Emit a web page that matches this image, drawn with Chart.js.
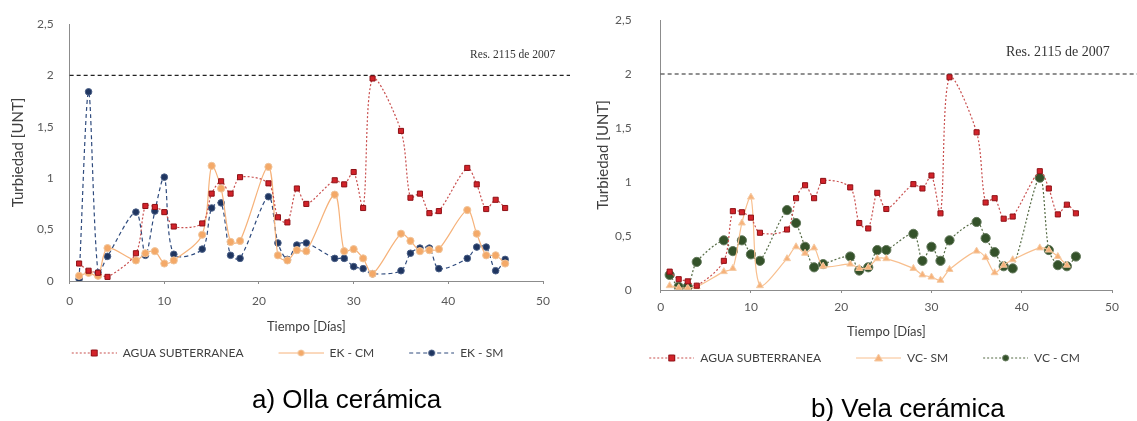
<!DOCTYPE html>
<html>
<head>
<meta charset="utf-8">
<script src="https://cdn.jsdelivr.net/npm/chart.js@4.4.1/dist/chart.umd.min.js"></script>
<style>
  html, body { margin: 0; padding: 0; background: #fff; }
  #wrap { position: relative; width: 1137px; height: 421px; overflow: hidden; }
  #chartA { position: absolute; left: 0; top: 0; }
  #chartB { position: absolute; left: 570px; top: 0; }
  .sub { position: absolute; font: 26px "Liberation Sans", Arial, sans-serif; line-height: 31px; color: #000; white-space: nowrap; }
  #subA { left: 252px; top: 384px; }
  #subB { left: 811px; top: 393px; }
</style>
</head>
<body>
<div id="wrap">
  <canvas id="chartA" width="570" height="421"></canvas>
  <canvas id="chartB" width="567" height="421"></canvas>
  <div class="sub" id="subA">a) Olla cerámica</div>
  <div class="sub" id="subB">b) Vela cerámica</div>
</div>
<script>
// dias de muestreo (lunes a viernes)
const days = [1, 2, 3, 4, 7, 8, 9, 10, 11, 14, 15, 16, 17, 18, 21, 22, 23, 24, 25, 28, 29, 30, 31, 32, 35, 36, 37, 38, 39, 42, 43, 44, 45, 46]

const aguaSubterranea = [0.17, 0.10, 0.08, 0.04, 0.27, 0.73, 0.72, 0.67, 0.53, 0.56, 0.85, 0.97, 0.85, 1.01, 0.95, 0.62, 0.57, 0.90, 0.75, 0.98, 0.94, 1.06, 0.71, 1.97, 1.46, 0.81, 0.85, 0.66, 0.68, 1.10, 0.94, 0.70, 0.79, 0.71]
const ekCm = [0.05, 0.08, 0.05, 0.32, 0.20, 0.27, 0.29, 0.17, 0.20, 0.45, 1.12, 0.90, 0.38, 0.39, 1.11, 0.25, 0.20, 0.30, 0.29, 0.84, 0.29, 0.31, 0.22, 0.07, 0.46, 0.39, 0.29, 0.30, 0.31, 0.69, 0.46, 0.25, 0.25, 0.17]
const ekSm = [0.02, 1.84, 0.08, 0.24, 0.67, 0.25, 0.68, 1.01, 0.26, 0.31, 0.71, 0.76, 0.25, 0.22, 0.82, 0.37, 0.21, 0.35, 0.37, 0.22, 0.22, 0.14, 0.12, 0.07, 0.10, 0.27, 0.32, 0.32, 0.12, 0.22, 0.33, 0.33, 0.10, 0.21]
const vcSm = [0.04, 0.02, 0.02, 0.03, 0.17, 0.20, 0.62, 0.86, 0.04, 0.29, 0.40, 0.34, 0.39, 0.22, 0.24, 0.20, 0.21, 0.29, 0.29, 0.20, 0.14, 0.12, 0.09, 0.19, 0.36, 0.30, 0.16, 0.23, 0.28, 0.39, 0.37, 0.31, 0.23]
const vcCm = [0.14, 0.03, 0.03, 0.26, 0.46, 0.36, 0.46, 0.33, 0.27, 0.74, 0.62, 0.40, 0.21, 0.24, 0.31, 0.18, 0.21, 0.37, 0.37, 0.52, 0.27, 0.40, 0.27, 0.46, 0.63, 0.48, 0.35, 0.22, 0.20, 1.04, 0.37, 0.23, 0.22, 0.31]

const limiteRes = 2 // Res. 2115 de 2007
const limiteDays = [0, 53]
const xTicks = [0, 10, 20, 30, 40, 50]
const yTicks = [0, 0.5, 1, 1.5, 2, 2.5]

const fontFamily = "Lato, 'Open Sans', sans-serif"
const tickFont = { family: fontFamily, size: 12 }

const toPoints = (values) => values.map((v, i) => ({ x: days[i], y: v }))

// muestra de linea + marcador para la leyenda (con hueco a la izquierda)
function legendSample(ds) {
  const c = document.createElement("canvas")
  c.width = 68
  c.height = 12
  const ctx = c.getContext("2d")
  const mid = 45.5
  ctx.strokeStyle = ds.borderColor
  ctx.lineWidth = 1
  ctx.setLineDash(ds.borderDash || [])
  ctx.beginPath()
  ctx.moveTo(23, 6)
  ctx.lineTo(68, 6)
  ctx.stroke()
  ctx.setLineDash([])
  ctx.fillStyle = ds.pointBackgroundColor
  ctx.strokeStyle = ds.pointBorderColor
  ctx.beginPath()
  if (ds.pointStyle === "rect") {
    ctx.rect(mid - 3, 3, 6, 6)
  } else if (ds.pointStyle === "triangle") {
    ctx.moveTo(mid, 2); ctx.lineTo(mid + 4, 9); ctx.lineTo(mid - 4, 9); ctx.closePath()
  } else {
    ctx.arc(mid, 6, 3, 0, Math.PI * 2)
  }
  ctx.fill()
  ctx.stroke()
  return c
}

const resLabel = {
  id: "resLabel",
  afterDatasetsDraw(chart, args, o) {
    const { ctx, scales: { x, y } } = chart
    ctx.save()
    ctx.font = o.size + "px 'Liberation Serif', serif"
    ctx.fillStyle = "#333"
    ctx.textAlign = "center"
    ctx.textBaseline = "middle"
    ctx.fillText(o.text, x.getPixelForValue(o.x), y.getPixelForValue(o.y))
    ctx.restore()
  }
}

const agua = {
  label: "AGUA SUBTERRANEA",
  data: toPoints(aguaSubterranea),
  borderColor: "#c9504f",
  borderWidth: 1.2,
  borderDash: [2, 2],
  pointStyle: "rect",
  pointRadius: 3.6,
  pointBackgroundColor: "#d2232a",
  pointBorderColor: "#8e1116",
  pointBorderWidth: 1
}

function limitLine() {
  return {
    label: "limite",
    data: limiteDays.map((d) => ({ x: d, y: limiteRes })),
    borderColor: "#222",
    borderWidth: 1.2,
    borderDash: [4, 3],
    pointRadius: 0,
    tension: 0,
    clip: false
  }
}

function makeChart(id, datasets, o) {
  datasets.forEach((ds) => { ds.legendImg = legendSample(ds) })
  return new Chart(document.getElementById(id), {
    type: "line",
    data: { datasets: [...datasets, limitLine()] },
    plugins: [resLabel],
    options: {
      responsive: false,
      animation: false,
      elements: { line: { tension: 0.3 } },
      layout: { padding: o.padding },
      scales: {
        x: {
          type: "linear",
          min: 0,
          max: 50,
          afterBuildTicks: (axis) => { axis.ticks = xTicks.map((v) => ({ value: v })) },
          border: { color: "#8c8c8c" },
          grid: { drawOnChartArea: false, tickLength: 3, color: "#8c8c8c" },
          ticks: { font: tickFont, color: "#595959", padding: o.xTickPad },
          title: { display: true, text: "Tiempo [Días]", font: { family: fontFamily, size: 13 }, color: "#404040", padding: o.xTitlePad }
        },
        y: {
          min: 0,
          max: 2.5,
          afterBuildTicks: (axis) => { axis.ticks = yTicks.map((v) => ({ value: v })) },
          border: { color: "#8c8c8c" },
          grid: { drawOnChartArea: false, tickLength: o.yTickLen, tickColor: "rgba(0,0,0,0)" },
          ticks: { font: tickFont, color: "#595959", padding: 3, callback: (v) => String(v).replace(".", ",") },
          title: { display: true, text: "Turbiedad [UNT]", font: { family: fontFamily, size: 15 }, color: "#404040", padding: o.yTitlePad }
        }
      },
      plugins: {
        resLabel: { text: "Res. 2115 de 2007", x: o.resX, y: o.resY, size: o.resSize },
        tooltip: { enabled: false },
        title: { display: false },
        legend: {
          position: "bottom",
          labels: {
            usePointStyle: true,
            pointStyleWidth: 68,
            padding: 12,
            font: tickFont,
            color: "#404040",
            generateLabels: (chart) => chart.data.datasets
              .filter((ds) => ds.label !== "limite")
              .map((ds, i) => ({
                text: ds.label,
                datasetIndex: i,
                pointStyle: ds.legendImg,
                fontColor: "#404040",
                lineWidth: 0
              }))
          }
        }
      }
    }
  })
}

makeChart("chartA", [
  agua,
  {
    label: "EK - CM",
    data: toPoints(ekCm),
    borderColor: "#f6b27a",
    borderWidth: 1.2,
    pointStyle: "circle",
    pointRadius: 3.6,
    pointBackgroundColor: "#f4a968",
    pointBorderColor: "#f0c49a",
    pointBorderWidth: 1
  },
  {
    label: "EK - SM",
    data: toPoints(ekSm),
    borderColor: "#2e4a7d",
    borderWidth: 1.2,
    borderDash: [4, 3],
    pointStyle: "circle",
    pointRadius: 3.3,
    pointBackgroundColor: "#1f3560",
    pointBorderColor: "#4a5f86",
    pointBorderWidth: 1
  }
], {
  padding: { top: 24, left: 9, right: 27, bottom: 52 },
  xTickPad: 10, xTitlePad: { top: 1, bottom: 0 },
  yTickLen: 13, yTitlePad: { top: 0, bottom: 7 },
  resX: 46.8, resY: 2.2, resSize: 11.5
})

makeChart("chartB", [
  Object.assign({}, agua, { data: toPoints(aguaSubterranea) }),
  {
    label: "VC- SM",
    data: toPoints(vcSm),
    borderColor: "#f8bf8e",
    borderWidth: 1.2,
    pointStyle: "triangle",
    pointRadius: 4,
    pointBackgroundColor: "#f7b27a",
    pointBorderColor: "#f5cba5",
    pointBorderWidth: 1
  },
  {
    label: "VC - CM",
    data: toPoints(vcCm),
    borderColor: "#556b45",
    borderWidth: 1.2,
    borderDash: [2, 2],
    pointStyle: "circle",
    pointRadius: 4.6,
    pointBackgroundColor: "#34522a",
    pointBorderColor: "#62785a",
    pointBorderWidth: 1
  }
], {
  padding: { top: 20, left: 24, right: 25, bottom: 47 },
  xTickPad: 7, xTitlePad: { top: 3, bottom: 0 },
  yTickLen: 26, yTitlePad: { top: 0, bottom: 0 },
  resX: 44, resY: 2.2, resSize: 14
})
</script>
</body>
</html>
